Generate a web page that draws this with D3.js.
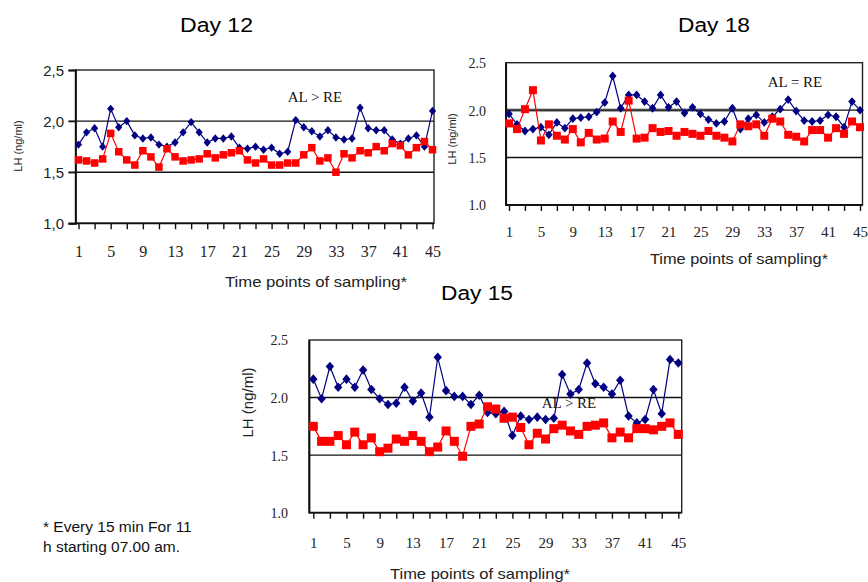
<!DOCTYPE html>
<html><head><meta charset="utf-8">
<script src="https://cdn.jsdelivr.net/npm/d3@7"></script>
<style>html,body{margin:0;padding:0;background:#fff}svg{display:block}</style>
</head><body>
<svg id="chart" width="868" height="582"></svg>
<script>
// ---- data ----
const timePoints = [1,2,3,4,5,6,7,8,9,10,11,12,13,14,15,16,17,18,19,20,21,22,23,24,25,26,27,28,29,30,31,32,33,34,35,36,37,38,39,40,41,42,43,44,45];
const xTickLabels = [1,5,9,13,17,21,25,29,33,37,41,45];
const yTickValues = [1.0,1.5,2.0,2.5];
const gridValues = [1.5,2.0];

const day12AL = [1.77,1.89,1.93,1.75,2.12,1.94,2.00,1.86,1.83,1.84,1.77,1.75,1.79,1.89,1.99,1.89,1.79,1.83,1.83,1.85,1.74,1.73,1.75,1.72,1.74,1.68,1.70,2.01,1.94,1.90,1.85,1.91,1.84,1.82,1.83,2.13,1.93,1.91,1.91,1.82,1.78,1.83,1.86,1.75,2.10];
const day12RE = [1.62,1.61,1.59,1.63,1.88,1.70,1.62,1.57,1.71,1.65,1.55,1.73,1.65,1.61,1.62,1.63,1.68,1.64,1.67,1.69,1.71,1.62,1.59,1.63,1.57,1.57,1.59,1.59,1.67,1.74,1.61,1.64,1.50,1.68,1.64,1.71,1.69,1.75,1.71,1.78,1.76,1.67,1.74,1.80,1.72];

const day18AL = [1.96,1.85,1.78,1.80,1.82,1.74,1.87,1.81,1.91,1.92,1.93,1.98,2.08,2.36,2.02,2.16,2.16,2.09,2.02,2.16,2.03,2.09,1.97,2.03,1.96,1.90,1.86,1.88,2.02,1.80,1.91,1.95,1.87,1.93,2.01,2.11,1.99,1.89,1.88,1.89,1.95,1.93,1.82,2.09,2.00];
const day18RE = [1.86,1.80,2.01,2.21,1.68,1.85,1.73,1.69,1.80,1.66,1.76,1.69,1.70,1.88,1.77,2.10,1.70,1.71,1.81,1.77,1.78,1.73,1.77,1.75,1.73,1.78,1.73,1.71,1.67,1.85,1.83,1.85,1.73,1.91,1.88,1.74,1.72,1.67,1.79,1.79,1.71,1.81,1.75,1.88,1.82];

const day15AL = [2.16,1.99,2.27,2.09,2.16,2.09,2.24,2.07,1.99,1.94,1.95,2.09,1.97,2.04,1.83,2.35,2.06,2.01,2.01,1.94,2.02,1.87,1.86,1.88,1.67,1.84,1.81,1.83,1.81,1.82,2.20,2.03,2.07,2.30,2.12,2.09,2.03,2.15,1.84,1.78,1.81,2.07,1.86,2.33,2.30];
const day15RE = [1.75,1.62,1.62,1.67,1.59,1.70,1.59,1.65,1.53,1.56,1.64,1.62,1.67,1.62,1.53,1.57,1.71,1.62,1.49,1.75,1.77,1.92,1.90,1.82,1.83,1.74,1.59,1.69,1.64,1.73,1.76,1.71,1.68,1.75,1.76,1.78,1.65,1.70,1.65,1.73,1.73,1.72,1.75,1.78,1.68];

const titles = ["Day 12","Day 18","Day 15"];
const notes = ["AL > RE","AL = RE","AL > RE"];
const yAxisTitle = "LH (ng/ml)";
const xAxisTitle = "Time points of sampling*";
const footnoteLines = ["* Every 15 min For 11","h starting 07.00 am."];

// ---- drawing ----
const SANS = "'Liberation Sans', Arial, sans-serif";
const SERIF = "'Liberation Serif', 'Times New Roman', serif";
const BLUE = "#000080", RED = "#ff0000";
const svg = d3.select("#chart");

const panels = [
  { title: titles[0], al: day12AL, re: day12RE, note: notes[0], comma: true,
    box: {l: 75.5, r: 434, t: 70, b: 223.3}, xr: [78.5, 432.5],
    yTick: 7, yLabFont: SANS, yLabSize: 15, yLabX: 64,
    xLabY: 257, xLabSize: 16,
    titleXY: [216.5, 32], titleW: 73,
    xtXY: [316, 287], xtW: 182, xtSize: 15,
    ytXY: [18, 146], ytSize: 11,
    noteXY: [315, 102], diamond: [3.6, 4.2], sq: 7.5, grayBand: null },
  { title: titles[1], al: day18AL, re: day18RE, note: notes[1], comma: false,
    box: {l: 505.7, r: 862.5, t: 62.7, b: 205}, xr: [509, 860],
    yTick: 0, yLabFont: SERIF, yLabSize: 14, yLabX: 486,
    xLabY: 237, xLabSize: 15,
    titleXY: [714, 32], titleW: 72,
    xtXY: [739, 264], xtW: 178, xtSize: 15,
    ytXY: [452, 139], ytSize: 11,
    noteXY: [795, 87], diamond: [3.8, 4.4], sq: 8, grayBand: 777 },
  { title: titles[2], al: day15AL, re: day15RE, note: notes[2], comma: false,
    box: {l: 309, r: 681.7, t: 340, b: 512.7}, xr: [313.3, 678.3],
    yTick: 0, yLabFont: SERIF, yLabSize: 14, yLabX: 288,
    xLabY: 548, xLabSize: 15,
    titleXY: [477, 300], titleW: 72,
    xtXY: [480, 579], xtW: 180, xtSize: 15,
    ytXY: [247.5, 402.5], ytSize: 15,
    noteXY: [569, 408], diamond: [4.2, 4.8], sq: 9, grayBand: null }
];

function addText(g, str, x, y, o) {
  const t = g.append("text").attr("x", x).attr("y", y).text(str)
    .attr("font-family", o.family || SANS).attr("font-size", o.size || 14)
    .attr("fill", o.fill || "#000").attr("text-anchor", o.anchor || "middle");
  if (o.width) t.attr("textLength", o.width).attr("lengthAdjust", "spacingAndGlyphs");
  if (o.rotate) t.attr("transform", `rotate(-90,${x},${y})`);
  return t;
}

panels.forEach(p => {
  const g = svg.append("g");
  const x = d3.scaleLinear().domain([timePoints[0], timePoints[timePoints.length - 1]]).range(p.xr);
  const y = d3.scaleLinear().domain([yTickValues[0], yTickValues[yTickValues.length - 1]]).range([p.box.b, p.box.t]);

  // gridlines
  if (p.grayBand) {
    g.append("line").attr("x1", p.box.l).attr("x2", p.grayBand)
      .attr("y1", y(2.0)).attr("y2", y(2.0)).attr("stroke", "#8a8a8a").attr("stroke-width", 3.2);
  }
  gridValues.forEach(v => {
    g.append("line").attr("x1", p.box.l - p.yTick).attr("x2", p.box.r)
      .attr("y1", y(v)).attr("y2", y(v)).attr("stroke", "#111").attr("stroke-width", 1.4);
  });

  // frame
  g.append("rect").attr("x", p.box.l).attr("y", p.box.t)
    .attr("width", p.box.r - p.box.l).attr("height", p.box.b - p.box.t)
    .attr("fill", "none").attr("stroke", "#222").attr("stroke-width", 1.4);

  // y axis
  const yAxis = d3.axisLeft(y).tickValues(yTickValues).tickSize(p.yTick).tickPadding(0)
    .tickFormat(d => p.comma ? d3.format(".1f")(d).replace(".", ",") : d3.format(".1f")(d));
  const ya = g.append("g").attr("transform", `translate(${p.box.l},0)`).call(yAxis);
  ya.select(".domain").attr("stroke", "#111").attr("stroke-width", 1.8);
  ya.selectAll(".tick line").attr("stroke", "#111").attr("stroke-width", 1.4);
  ya.selectAll(".tick text").attr("x", p.yLabX - p.box.l).attr("dy", "0.35em")
    .attr("font-family", p.yLabFont).attr("font-size", p.yLabSize).attr("fill", "#222")
    .attr("text-anchor", "end");

  // x axis
  const oddPoints = timePoints.filter((d, i) => i % 2 === 0);
  const xAxis = d3.axisBottom(x).tickValues(oddPoints).tickSize(6).tickSizeOuter(0)
    .tickFormat(d => xTickLabels.includes(d) ? String(d) : "");
  const xa = g.append("g").attr("transform", `translate(0,${p.box.b})`).call(xAxis);
  xa.select(".domain").remove();
  g.append("line").attr("x1", p.box.l - p.yTick).attr("x2", p.box.r)
    .attr("y1", p.box.b).attr("y2", p.box.b).attr("stroke", "#111").attr("stroke-width", 1.8);
  xa.selectAll(".tick line").attr("stroke", "#111").attr("stroke-width", 1.4);
  xa.selectAll(".tick text").attr("y", p.xLabY - p.box.b).attr("dy", 0)
    .attr("font-family", SERIF).attr("font-size", p.xLabSize).attr("fill", "#222");

  // series
  const line = d3.line().x((d, i) => x(timePoints[i])).y(d => y(d));
  g.append("path").datum(p.al).attr("d", line).attr("fill", "none").attr("stroke", BLUE).attr("stroke-width", 1.2);
  const [dw, dh] = p.diamond;
  g.selectAll(".dia").data(p.al).enter().append("path")
    .attr("transform", (d, i) => `translate(${x(timePoints[i])},${y(d)})`)
    .attr("d", `M0,${-dh}L${dw},0L0,${dh}L${-dw},0Z`).attr("fill", BLUE);

  g.append("path").datum(p.re).attr("d", line).attr("fill", "none").attr("stroke", RED).attr("stroke-width", 1.2);
  g.selectAll(".sq").data(p.re).enter().append("rect")
    .attr("x", (d, i) => x(timePoints[i]) - p.sq / 2).attr("y", d => y(d) - p.sq / 2)
    .attr("width", p.sq).attr("height", p.sq).attr("fill", RED);

  // texts
  addText(g, p.title, p.titleXY[0], p.titleXY[1], {size: 20, width: p.titleW});
  addText(g, xAxisTitle, p.xtXY[0], p.xtXY[1], {size: p.xtSize, width: p.xtW, fill: "#222"});
  addText(g, yAxisTitle, p.ytXY[0], p.ytXY[1], {size: p.ytSize, rotate: true, fill: "#222", anchor: "middle"}).attr("dy", "0.35em");
  addText(g, p.note, p.noteXY[0], p.noteXY[1], {size: 15, family: SERIF, fill: "#111"});
});

footnoteLines.forEach((s, i) => {
  addText(svg, s, 43, 532 + i * 20, {size: 15.5, anchor: "start", fill: "#111"});
});
</script>
</body></html>
